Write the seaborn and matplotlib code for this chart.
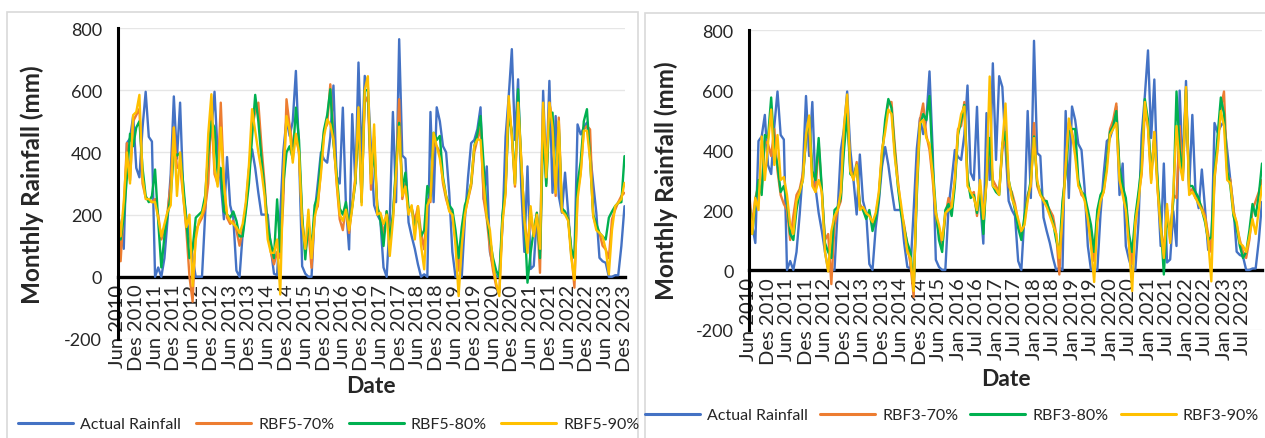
import numpy as np
import pandas as pd
import seaborn as sns
import matplotlib.pyplot as plt
from matplotlib.lines import Line2D
from matplotlib.patches import Rectangle

# 1. Données (lecture approximative du graphique, mensuel Jun 2010 -> Des 2023)
actual = [215, 150, 90, 430, 445, 517, 350, 320, 480, 595,
          450, 435, 0, 30, 0, 60, 185, 330, 580, 380,
          560, 275, 190, 130, 60, 0, 0, 0, 200, 400,
          470, 595, 400, 300, 185, 385, 230, 190, 20, 0,
          140, 227, 345, 410, 350, 270, 200, 200, 200, 90,
          10, 5, 200, 405, 506, 453, 500, 662, 400, 34,
          10, 0, 0, 206, 300, 400, 377, 367, 450, 615,
          324, 300, 544, 227, 88, 523, 300, 689, 367, 646,
          610, 410, 230, 200, 180, 30, 0, 185, 530, 240,
          764, 390, 380, 175, 130, 90, 40, 0, 8, 0,
          530, 240, 545, 500, 420, 400, 270, 80, 0, 0,
          0, 185, 320, 430, 440, 475, 545, 250, 355, 80,
          35, 0, 0, 160, 450, 580, 732, 440, 635, 290,
          80, 355, 25, 35, 195, 80, 598, 325, 630, 270,
          517, 260, 206, 335, 206, 67, 67, 490, 458, 480,
          496, 400, 300, 206, 61, 50, 45, 0, 0, 5,
          5, 99, 227]

rbf5_70 = [230, 50, 220, 430, 310, 500, 520, 540, 300, 255,
           245, 240, 250, 200, 120, 150, 210, 300, 480, 350,
           356, 260, 150, 0, -80, 150, 170, 190, 220, 300,
           540, 330, 300, 560, 300, 190, 170, 180, 150, 100,
           150, 220, 330, 480, 530, 560, 420, 300, 150, 80,
           40, 80, 60, 250, 571, 485, 420, 450, 400, 185,
           80, 150, 29, 206, 227, 345, 470, 490, 619, 450,
           303, 185, 150, 230, 141, 230, 320, 500, 260, 560,
           580, 280, 450, 220, 200, 130, 210, 150, 190, 340,
           571, 250, 300, 211, 220, 180, 227, 140, 88, 250,
           240, 430, 420, 400, 300, 250, 216, 200, 120, 20,
           120, 206, 249, 292, 400, 442, 480, 249, 185, 88,
           20, -30, -50, 185, 270, 560, 453, 290, 560, 377,
           185, 100, 200, 130, 206, 13, 540, 300, 560, 500,
           260, 512, 216, 206, 190, 77, -35, 270, 335, 474,
           485, 474, 195, 160, 141, 100, 88, 60, 185, 215,
           240, 260, 270]

rbf5_80 = [225, 120, 190, 320, 460, 420, 480, 500, 350, 260,
           240, 260, 345, 180, 30, 130, 200, 260, 400, 390,
           398, 300, 180, 60, 90, 190, 200, 210, 260, 400,
           500, 480, 330, 350, 210, 200, 190, 210, 180, 130,
           130, 210, 300, 450, 585, 500, 380, 280, 160, 110,
           60, 249, 80, 300, 400, 420, 380, 544, 440, 200,
           56, 180, 90, 230, 260, 380, 474, 520, 603, 430,
           330, 220, 200, 240, 160, 227, 300, 520, 240, 600,
           600, 330, 400, 230, 180, 99, 211, 120, 200, 356,
           495, 280, 335, 220, 222, 152, 200, 130, 150, 292,
           260, 463, 440, 453, 320, 260, 230, 216, 150, 60,
           160, 230, 260, 300, 420, 460, 517, 356, 200, 120,
           60, 20, 0, 200, 290, 520, 470, 300, 603, 360,
           200, -19, 77, 150, 206, 60, 480, 292, 520, 528,
           280, 480, 220, 210, 185, 90, 60, 300, 370, 500,
           539, 377, 200, 170, 141, 130, 120, 190, 210, 227,
           238, 240, 388]

rbf5_90 = [230, 130, 240, 400, 300, 520, 530, 585, 320, 250,
           250, 240, 240, 190, 130, 170, 210, 230, 480, 260,
           400, 260, 160, 200, -30, 120, 180, 200, 240, 460,
           587, 350, 290, 480, 300, 200, 180, 170, 160, 140,
           170, 240, 360, 539, 470, 400, 340, 260, 120, 77,
           77, 120, -57, 330, 517, 470, 367, 460, 400, 170,
           90, 216, 60, 190, 240, 330, 450, 506, 490, 440,
           310, 200, 180, 216, 150, 220, 310, 545, 230, 600,
           645, 300, 490, 200, 206, 170, 200, 67, 180, 330,
           483, 260, 290, 200, 230, 120, 227, 100, 24, 230,
           250, 463, 420, 380, 310, 260, 210, 200, 100, -62,
           100, 200, 250, 300, 420, 442, 440, 300, 190, 150,
           40, -20, -62, 170, 270, 581, 453, 297, 560, 377,
           185, 77, 227, 130, 200, 90, 560, 320, 560, 480,
           270, 500, 210, 200, 180, 60, -10, 250, 330, 470,
           470, 377, 195, 150, 141, 130, 88, 8, 150, 227,
           238, 250, 302]

rbf3_70 = [260, 150, 240, 280, 260, 430, 420, 380, 470, 330,
           250, 220, 200, 100, 180, 250, 270, 320, 430, 500,
           300, 260, 420, 260, 100, 120, -47, 150, 200, 230,
           450, 540, 340, 300, 360, 220, 200, 180, 190, 150,
           180, 250, 390, 480, 560, 560, 420, 300, 200, 150,
           80, 20, -90, 300, 500, 555, 450, 400, 300, 180,
           120, 80, 180, 240, 200, 300, 470, 480, 560, 300,
           250, 260, 180, 280, 150, 300, 420, 300, 280, 260,
           400, 450, 280, 260, 220, 160, 120, 160, 250, 280,
           490, 280, 250, 240, 220, 200, 180, 120, -15, 200,
           350, 490, 460, 400, 290, 250, 240, 180, 100, 30,
           180, 240, 260, 350, 470, 500, 555, 320, 260, 230,
           100, 20, 150, 250, 320, 530, 480, 300, 460, 280,
           150, 60, 200, 100, 250, 240, 480, 300, 600, 260,
           270, 240, 230, 210, 180, 120, 60, 300, 420, 540,
           595, 320, 300, 200, 150, 100, 60, 40, 100, 200,
           230, 260, 300]

rbf3_80 = [240, 120, 220, 300, 250, 450, 440, 575, 400, 350,
           260, 280, 230, 120, 100, 200, 260, 300, 440, 510,
           330, 300, 440, 270, 90, 60, 40, 200, 210, 240,
           400, 520, 320, 310, 350, 210, 200, 170, 200, 130,
           170, 240, 380, 500, 570, 540, 400, 280, 190, 140,
           90, 60, -60, 250, 480, 520, 500, 580, 350, 200,
           100, 60, 200, 220, 180, 280, 450, 500, 550, 310,
           240, 250, 190, 260, 120, 310, 440, 280, 260, 250,
           420, 460, 300, 250, 200, 140, 100, 180, 240, 300,
           445, 290, 260, 230, 230, 190, 160, 100, 60, 230,
           320, 460, 470, 470, 300, 260, 250, 200, 150, 60,
           200, 250, 270, 360, 460, 480, 530, 340, 280, 240,
           120, 60, 180, 260, 350, 570, 500, 320, 440, 300,
           160, -15, 180, 120, 230, 595, 400, 320, 600, 280,
           280, 260, 240, 200, 160, 100, 110, 320, 450, 575,
           520, 330, 280, 180, 140, 80, 40, 60, 130, 220,
           180, 250, 355]

rbf3_90 = [230, 120, 240, 200, 445, 300, 420, 535, 350, 450,
           300, 310, 250, 150, 120, 230, 260, 300, 450, 515,
           280, 260, 300, 260, 60, -5, 130, 180, 200, 260,
           480, 585, 330, 300, 350, 200, 210, 190, 180, 160,
           190, 260, 400, 460, 535, 520, 380, 290, 220, 140,
           60, 40, -70, 280, 490, 500, 440, 420, 320, 190,
           150, 100, 190, 200, 210, 300, 460, 520, 545, 280,
           260, 240, 200, 300, 170, 290, 645, 280, 270, 250,
           420, 555, 300, 240, 210, 170, 130, 150, 230, 290,
           440, 300, 250, 230, 210, 180, 150, 120, 40, 180,
           340, 505, 450, 380, 280, 260, 230, 170, 80, -40,
           160, 230, 260, 330, 450, 470, 490, 300, 250, 200,
           80, -70, 160, 230, 330, 560, 470, 290, 460, 270,
           140, 40, 220, 90, 260, 480, 350, 300, 610, 250,
           260, 240, 220, 200, 170, 100, -38, 310, 400, 530,
           480, 300, 290, 190, 160, 90, 80, 60, 110, 170,
           120, 200, 280]

ticks_left = ["Jun 2010", "Des 2010", "Jun 2011", "Des 2011", "Jun 2012", "Des 2012",
              "Jun 2013", "Des 2013", "Jun 2014", "Des 2014", "Jun 2015", "Des 2015",
              "Jun 2016", "Des 2016", "Jun 2017", "Des 2017", "Jun 2018", "Des 2018",
              "Jun 2019", "Des 2019", "Jun 2020", "Des 2020", "Jun 2021", "Des 2021",
              "Jun 2022", "Des 2022", "Jun 2023", "Des 2023"]
ticks_right = ["Jun 2010", "Des 2010", "Jun 2011", "Des 2011", "Jun 2012", "Des 2012",
               "Jun 2013", "Des 2013", "Jun 2014", "Des 2014", "Jun 2015", "Jan 2016",
               "Jul 2016", "Jan 2017", "Jul 2017", "Jan 2018", "Jul 2018", "Jan 2019",
               "Jul 2019", "Jan 2020", "Jul 2020", "Jan 2021", "Jul 2021", "Jan 2022",
               "Jul 2022", "Jan 2023", "Jul 2023"]

names_left = ["Actual Rainfall", "RBF5-70%", "RBF5-80%", "RBF5-90%"]
names_right = ["Actual Rainfall", "RBF3-70%", "RBF3-80%", "RBF3-90%"]
colors = ["#4472C4", "#ED7D31", "#00B050", "#FFC000"]

# 2. Style
sns.set_style("white")
plt.rcParams['font.family'] = ['Lato', 'DejaVu Sans']
plt.rcParams['axes.unicode_minus'] = False

fig = plt.figure(figsize=(12.65, 4.39), dpi=100)

# cadres gris des deux graphiques
fig.patches.append(Rectangle((7 / 1265, -0.02), 631 / 1265, 1.0 - 13 / 439 + 0.02,
                             transform=fig.transFigure, fill=False,
                             edgecolor="#d9d9d9", linewidth=1.2, zorder=0))
fig.patches.append(Rectangle((645 / 1265, -0.02), 0.5, 1.0 - 14 / 439 + 0.02,
                             transform=fig.transFigure, fill=False,
                             edgecolor="#d9d9d9", linewidth=1.2, zorder=0))

ax_l = fig.add_axes([117.5 / 1265, 99 / 439, 507 / 1265, 311 / 439])
ax_r = fig.add_axes([749 / 1265, 108 / 439, 513 / 1265, 300 / 439])


def draw_panel(ax, series, names, ticklabels, ylab_x):
    n = len(series[0])
    df = pd.DataFrame({name: vals for name, vals in zip(names, series)})
    df["idx"] = np.arange(n)
    long = df.melt(id_vars="idx", var_name="serie", value_name="mm")
    sns.lineplot(data=long, x="idx", y="mm", hue="serie", hue_order=names,
                 palette=dict(zip(names, colors)), linewidth=1.7,
                 legend=False, ax=ax)

    ax.set_xlim(0, n - 1)
    ax.set_ylim(-200, 800)
    ax.set_yticks([-200, 0, 200, 400, 600, 800])
    ax.yaxis.grid(True, color="#e6e6e6", linewidth=1.0)
    ax.set_axisbelow(True)

    for s in ["top", "right"]:
        ax.spines[s].set_visible(False)
    ax.spines["left"].set_color("black")
    ax.spines["left"].set_linewidth(2.2)
    ax.spines["bottom"].set_position(("data", 0))
    ax.spines["bottom"].set_color("black")
    ax.spines["bottom"].set_linewidth(2.4)
    ax.spines["bottom"].set_zorder(1)

    ax.set_xticks(np.arange(0, 6 * len(ticklabels), 6))
    ax.set_xticklabels(ticklabels, rotation=90, fontsize=14.5)
    ax.tick_params(axis="x", length=0, pad=5)
    ax.tick_params(axis="y", length=5, width=2, direction="out",
                   labelsize=13, pad=6)

    ax.set_xlabel("Date", fontsize=16.5, fontweight="bold", labelpad=3)
    ax.set_ylabel("Monthly Rainfall (mm)", fontsize=17.5, fontweight="bold")
    ax.yaxis.set_label_coords(ylab_x, 0.5)


draw_panel(ax_l, [actual, rbf5_70, rbf5_80, rbf5_90], names_left, ticks_left, -0.145)
draw_panel(ax_r, [actual, rbf3_70, rbf3_80, rbf3_90], names_right, ticks_right, -0.138)

# 3. Légendes horizontales sous chaque graphique
for names, cx, cy, cs in [(names_left, 329 / 1265, 14 / 439, 0.9),
                          (names_right, 952 / 1265, 23 / 439, 0.75)]:
    handles = [Line2D([0], [0], color=c, linewidth=2.2) for c in colors]
    fig.legend(handles, names, loc="center", bbox_to_anchor=(cx, cy), ncol=4,
               frameon=False, fontsize=11.5, handlelength=3.45, handletextpad=0.45,
               columnspacing=cs, borderpad=0.2)

plt.savefig("out.png", dpi=100)
